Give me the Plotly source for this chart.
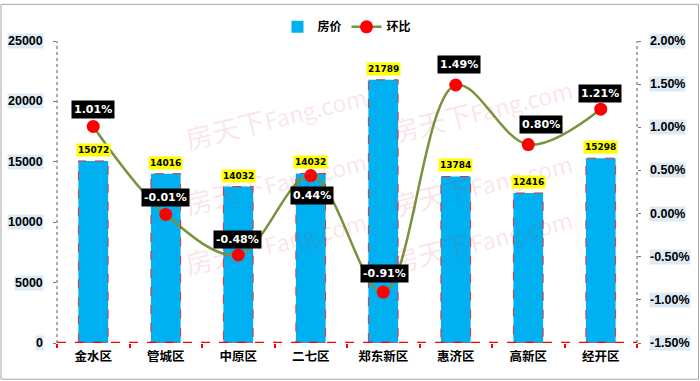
import plotly.graph_objects as go

# ---- data ----
districts = ["金水区", "管城区", "中原区", "二七区", "郑东新区", "惠济区", "高新区", "经开区"]
prices = [15072, 14016, 12950, 14032, 21789, 13784, 12416, 15298]          # bar heights
price_labels = ["15072", "14016", "14032", "14032", "21789", "13784", "12416", "15298"]  # printed labels
mom = [0.0101, -0.0001, -0.0048, 0.0044, -0.0091, 0.0149, 0.0080, 0.0121]
mom_labels = ["1.01%", "-0.01%", "-0.48%", "0.44%", "-0.91%", "1.49%", "0.80%", "1.21%"]
left_ticks = [0, 5000, 10000, 15000, 20000, 25000]
left_tick_text = ["0", "5000", "10000", "15000", "20000", "25000"]
right_ticks = [-0.015, -0.01, -0.005, 0.0, 0.005, 0.01, 0.015, 0.02]
right_tick_text = ["-1.50%", "-1.00%", "-0.50%", "0.00%", "0.50%", "1.00%", "1.50%", "2.00%"]

W, H = 700, 381
ML, MR, MT, MB = 57, 63, 38, 38
PW, PH = W - ML - MR, H - MT - MB

BAR_W = 0.41
num_font = "Liberation Sans"
cjk_font = "Noto Sans CJK SC"
TICK_BG = "#DDEAF4"

fig = go.Figure()
fig.add_trace(go.Bar(
    x=districts, y=prices, name="房价", width=BAR_W,
    marker=dict(color="#00B0F0", line=dict(width=0)),
    yaxis="y",
))
fig.add_trace(go.Scatter(
    x=districts, y=mom, name="环比", mode="lines+markers", yaxis="y2",
    line=dict(color="#77933C", width=2.5, shape="spline", smoothing=1.0),
    marker=dict(color="#FF0000", size=13, line=dict(width=0)),
))

annotations = []
# watermarks (drawn first so they sit beneath other annotations)
wm_pos = [(275, 70), (578, 63), (275, 180), (578, 182), (275, 285), (578, 283)]
for px, py in wm_pos:
    annotations.append(dict(
        x=(px - ML) / PW, y=1 - (py - MT) / PH, xref="paper", yref="paper",
        text="房天下<span style='font-size:23px'>Fang.com</span>", showarrow=False, textangle=-14,
        font=dict(family=cjk_font, size=27, color="rgba(215,60,80,0.14)"),
    ))
# bar value labels (yellow)
for d, v, t in zip(districts, prices, price_labels):
    annotations.append(dict(
        x=d, y=v, xref="x", yref="y", text="<b>%s</b>" % t, showarrow=False,
        yanchor="bottom", yshift=4, bgcolor="#FFFF00", borderpad=1,
        font=dict(family="DejaVu Sans", size=9, color="#000000"),
    ))
# mom labels (black boxes)
offsets = [17, 17, 15, -20, 19, 21, 20, 16]
xoffs = [0, 0, -1, 1, 1, 3, 13, -1]
for d, v, t, dy, dx in zip(districts, mom, mom_labels, offsets, xoffs):
    annotations.append(dict(
        x=d, y=v, xref="x", yref="y2", text="<b>%s</b>" % t, showarrow=False,
        yshift=dy, xshift=dx, bgcolor="#000000", borderpad=2,
        font=dict(family="DejaVu Sans", size=11, color="#FFFFFF"),
    ))
# axis tick labels with light background boxes
for v, t in zip(left_ticks, left_tick_text):
    annotations.append(dict(
        x=-13 / PW, y=v, xref="paper", yref="y", text="<b>%s</b>" % t, showarrow=False,
        xanchor="right", yanchor="middle", bgcolor=TICK_BG, borderpad=0,
        font=dict(family=num_font, size=12.5, color="#000000"),
    ))
for v, t in zip(right_ticks, right_tick_text):
    annotations.append(dict(
        x=1 + 12 / PW, y=v, xref="paper", yref="y2", text="<b>%s</b>" % t, showarrow=False,
        xanchor="left", yanchor="middle", bgcolor=TICK_BG, borderpad=0,
        font=dict(family=num_font, size=12.5, color="#000000"),
    ))

shapes = []
# bar dashed outlines
for i, v in enumerate(prices):
    shapes.append(dict(type="rect", xref="x", yref="y", x0=i - BAR_W / 2, x1=i + BAR_W / 2,
                       y0=0, y1=v, line=dict(color="#E0303A", width=1, dash="dash"),
                       fillcolor="rgba(0,0,0,0)", layer="above"))
# dotted axis lines
shapes.append(dict(type="line", xref="paper", yref="paper", x0=0, x1=0, y0=0, y1=1,
                   line=dict(color="#555555", width=1, dash="dot")))
shapes.append(dict(type="line", xref="paper", yref="paper", x0=1, x1=1, y0=0, y1=1,
                   line=dict(color="#555555", width=1, dash="dot")))
# red dashed baseline
shapes.append(dict(type="line", xref="paper", yref="y", x0=0, x1=1, y0=0, y1=0,
                   line=dict(color="#FF0000", width=2.5, dash="dash"), layer="above"))
# outer border
shapes.append(dict(type="rect", xref="paper", yref="paper",
                   x0=-(ML - 1) / PW, x1=1 + (MR - 1.5) / PW,
                   y0=-(MB - 1.5) / PH, y1=1 + (MT - 1) / PH,
                   line=dict(color="#A6A6A6", width=1), fillcolor="rgba(0,0,0,0)"))

fig.update_layout(
    width=W, height=H,
    margin=dict(l=ML, r=MR, t=MT, b=MB, pad=0),
    paper_bgcolor="white", plot_bgcolor="white",
    showlegend=True,
    legend=dict(orientation="h", x=0.5, xanchor="center", y=1 + (MT - 9) / PH, yanchor="top",
                font=dict(family=cjk_font, size=12, color="#000000", weight="bold"),
                tracegroupgap=0, bgcolor="rgba(0,0,0,0)"),
    xaxis=dict(
        type="category", range=[-0.5, 7.5], showgrid=False, zeroline=False, showline=False,
        ticks="outside", tickson="boundaries", ticklen=4, tickcolor="#FF0000", tickwidth=2,
        tickfont=dict(family=cjk_font, size=12.5, color="#000000", weight="bold"),
        ticklabelstandoff=4,
    ),
    yaxis=dict(
        range=[0, 25000], tickvals=left_ticks, showticklabels=False, showgrid=False,
        zeroline=False, showline=False, ticks="outside", ticklen=3, tickcolor="#777777",
    ),
    yaxis2=dict(
        range=[-0.015, 0.02], tickvals=right_ticks, showticklabels=False, overlaying="y",
        side="right", showgrid=False, zeroline=False, showline=False,
        ticks="outside", ticklen=3, tickcolor="#777777",
    ),
    annotations=annotations,
    shapes=shapes,
)

fig.write_html("out.html", config={"displayModeBar": False},
               post_script="document.body.style.margin='0';document.body.style.overflow='hidden';")
